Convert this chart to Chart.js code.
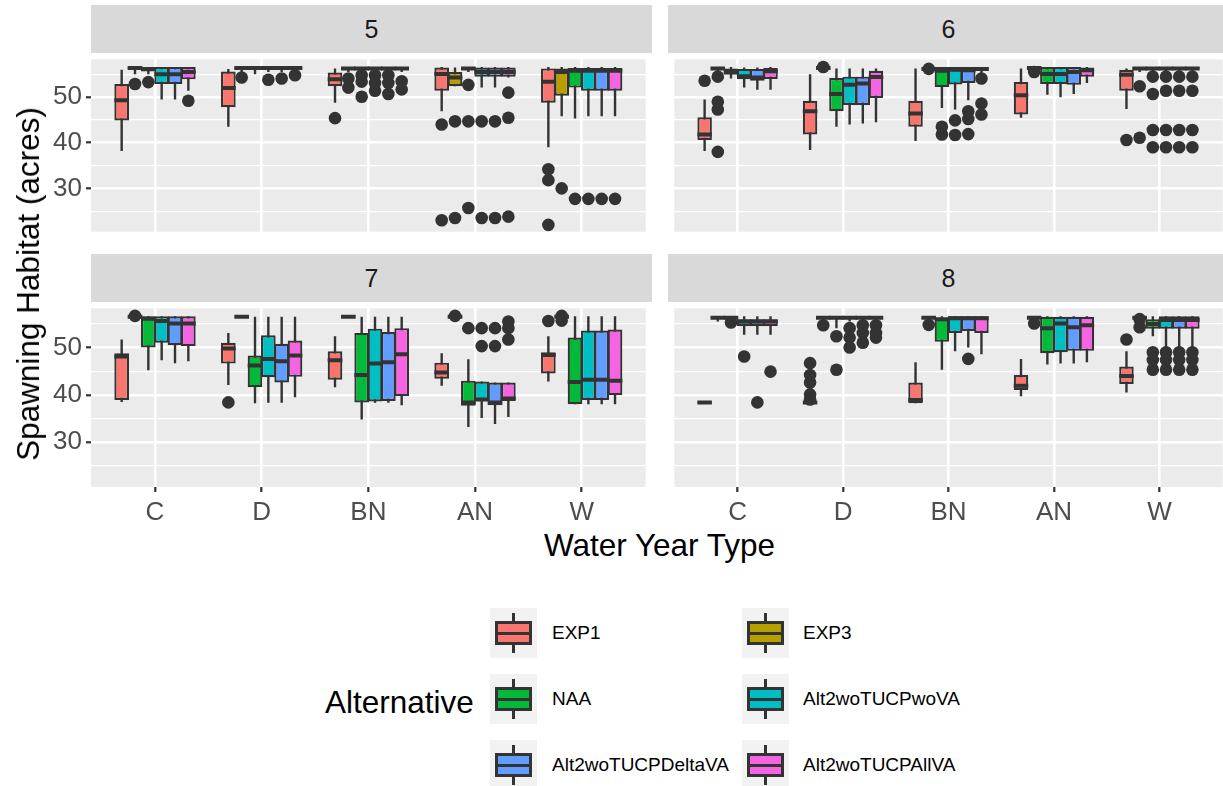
<!DOCTYPE html>
<html><head><meta charset="utf-8">
<script src="https://cdn.jsdelivr.net/npm/chart.js@4.4.1/dist/chart.umd.min.js"></script>
<style>
html,body{margin:0;padding:0}
body{width:1223px;height:786px;overflow:hidden;background:#fff;position:relative;font-family:"Liberation Sans",Arial,sans-serif}
.strip{position:absolute;background:#D9D9D9;color:#1A1A1A;font-size:25px;display:flex;align-items:center;justify-content:center}
canvas{position:absolute}
.title{position:absolute;color:#000;font-size:31.5px;white-space:nowrap}
.key{position:absolute;width:47px;height:50px;background:#F2F2F2}
.key .wh{position:absolute;left:22px;width:3px;top:5px;height:40px;background:#333}
.key .bx{position:absolute;left:5px;top:13px;width:37px;height:24px;border:3px solid #333;box-sizing:border-box}
.key .md{position:absolute;left:5px;top:23.5px;width:37px;height:3px;background:#333}
.lab{position:absolute;font-size:19px;color:#000;white-space:nowrap;line-height:24px}
</style></head>
<body>
<div class="strip" style="left:91px;top:5px;width:561px;height:48px">5</div>
<div class="strip" style="left:668px;top:5px;width:561px;height:48px">6</div>
<div class="strip" style="left:91px;top:254px;width:561px;height:48px">7</div>
<div class="strip" style="left:668px;top:254px;width:561px;height:48px">8</div>
<canvas id="p5" width="652" height="185" style="left:0;top:53px;width:652px;height:185px"></canvas>
<canvas id="p6" width="561" height="185" style="left:668px;top:53px;width:561px;height:185px"></canvas>
<canvas id="p7" width="652" height="225" style="left:0;top:302px;width:652px;height:225px"></canvas>
<canvas id="p8" width="561" height="225" style="left:668px;top:302px;width:561px;height:225px"></canvas>
<div class="title" style="left:91px;width:1137px;top:528px;text-align:center;line-height:34px">Water Year Type</div>
<div class="title" style="left:28px;top:284px;transform:translate(-50%,-50%) rotate(-90deg);line-height:34px">Spawning Habitat (acres)</div>
<div class="title" style="left:325px;top:685px;line-height:34px">Alternative</div>
<div id="legend"></div>
<script>
// ---------- data ----------
const categories = ['C', 'D', 'BN', 'AN', 'W'];
const alternatives = ['EXP1', 'EXP3', 'NAA', 'Alt2woTUCPwoVA', 'Alt2woTUCPDeltaVA', 'Alt2woTUCPAllVA'];
const altColors = ['#F8766D', '#B79F00', '#00BA38', '#00BFC4', '#619CFF', '#F564E3'];
const yTicks = [30, 40, 50];
const yMinor = [25, 35, 45, 55];
const panelNames = ['5', '6', '7', '8'];

// rows = alternatives, columns = categories (C, D, BN, AN, W)
const p5_lo  = [[38.2,43.5,48.8,46.9,39.0],[55.0,55.5,55.5,52.4,45.8],[55.0,55.0,55.5,55.5,45.3],[49.5,55.5,55.5,52.1,45.8],[49.5,55.5,55.5,52.1,45.8],[51.4,55.5,55.5,54.3,45.8]];
const p5_q1  = [[44.9,47.8,52.4,51.4,48.8],[56.0,56.0,56.0,52.4,50.3],[55.6,56.0,56.0,56.0,52.1],[52.9,56.1,56.0,54.5,51.4],[52.9,56.1,56.0,54.5,51.4],[53.9,56.1,56.0,54.5,51.4]];
const p5_med = [[49.3,52.0,53.9,55.1,53.4],[56.4,56.4,56.3,54.3,55.5],[56.2,56.4,56.3,56.3,55.8],[55.0,56.4,56.3,55.5,55.8],[55.0,56.4,56.3,55.5,55.8],[55.5,56.4,56.3,55.5,55.8]];
const p5_q3  = [[52.9,55.6,55.4,56.5,56.3],[56.6,56.6,56.6,55.5,56.3],[56.6,56.6,56.6,56.6,56.4],[56.6,56.6,56.6,56.5,56.4],[56.6,56.6,56.6,56.5,56.4],[56.6,56.6,56.6,56.5,56.4]];
const p5_hi  = [[56.0,56.2,56.3,56.6,56.6],[56.6,56.6,56.6,56.5,56.6],[56.6,56.6,56.6,56.6,56.6],[56.6,56.6,56.6,56.6,56.6],[56.6,56.6,56.6,56.6,56.6],[56.6,56.6,56.6,56.6,56.6]];
// outliers: [alternative, category, value]
const p5_out = [[1,0,52.9],[2,0,53.3],[5,0,49.2],
  [1,1,54.3],[3,1,53.8],[4,1,54.1],[5,1,54.8],
  [0,2,45.4],[1,2,54.1],[1,2,52.1],[2,2,54.8],[2,2,53.4],[2,2,50.1],[3,2,54.8],[3,2,53.1],[3,2,51.4],[4,2,54.8],[4,2,53.1],[4,2,50.7],[5,2,53.5],[5,2,51.7],
  [0,3,44.0],[0,3,23.0],[1,3,44.7],[1,3,23.5],[2,3,52.7],[2,3,44.7],[2,3,25.7],[3,3,44.7],[3,3,23.5],[4,3,44.7],[4,3,23.5],[5,3,51.0],[5,3,45.5],[5,3,23.8],
  [0,4,34.2],[0,4,31.8],[0,4,22.0],[1,4,30.0],[2,4,27.7],[3,4,27.7],[4,4,27.7],[5,4,27.7]];

const p6_lo  = [[38.2,38.4,40.4,45.5,47.4],[55.5,56.3,56.0,56.2,55.5],[54.1,43.5,47.6,50.5,55.5],[52.1,44.0,47.3,50.0,55.5],[51.6,44.2,49.3,50.7,55.5],[51.6,44.5,55.0,53.1,55.5]];
const p6_q1  = [[40.6,41.8,43.5,46.2,51.4],[56.0,56.3,56.0,56.2,56.0],[54.9,46.9,52.2,52.9,56.0],[53.9,48.3,52.8,52.9,56.0],[53.6,48.3,53.1,52.7,56.0],[54.0,49.8,55.8,54.5,56.0]];
const p6_med = [[41.8,46.9,46.4,50.4,54.9],[56.3,56.4,56.2,56.4,56.3],[55.5,50.7,55.8,55.1,56.3],[54.6,52.7,56.0,55.1,56.3],[54.3,53.0,55.9,55.5,56.3],[55.7,54.4,56.2,55.9,56.3]];
const p6_q3  = [[45.6,49.2,49.2,53.3,56.0],[56.6,56.5,56.4,56.6,56.6],[56.3,54.2,56.6,56.6,56.6],[56.2,54.5,56.6,56.6,56.6],[56.2,54.5,56.6,56.6,56.6],[56.4,55.8,56.6,56.5,56.6]];
const p6_hi  = [[49.5,55.0,56.3,56.3,56.3],[56.6,56.5,56.4,56.6,56.6],[56.6,56.3,56.6,56.6,56.6],[56.5,56.3,56.6,56.6,56.6],[56.5,56.3,56.6,56.6,56.6],[56.6,56.3,56.6,56.6,56.6]];
const p6_out = [[0,0,53.6],[1,0,54.5],[1,0,49.0],[1,0,47.3],[1,0,38.0],
  [1,1,56.6],
  [1,2,56.2],[2,2,43.5],[2,2,41.8],[3,2,44.9],[3,2,41.7],[4,2,46.9],[4,2,45.2],[4,2,41.9],[5,2,54.1],[5,2,48.6],[5,2,46.2],
  [1,3,55.5],
  [0,4,40.6],[1,4,52.4],[1,4,41.1],[2,4,54.5],[2,4,50.7],[2,4,42.8],[2,4,39.0],[3,4,54.5],[3,4,51.4],[3,4,42.8],[3,4,39.0],[4,4,54.5],[4,4,51.4],[4,4,42.8],[4,4,39.0],[5,4,54.5],[5,4,51.4],[5,4,42.8],[5,4,39.0]];

const p7_lo  = [[38.5,42.1,41.6,41.9,42.8],[56.4,56.4,56.4,56.4,56.4],[45.2,38.2,34.8,33.2,38.0],[47.3,38.3,38.3,35.1,38.0],[46.7,38.3,38.3,33.8,38.0],[47.1,39.5,37.8,35.3,38.0]];
const p7_q1  = [[38.9,46.6,43.2,43.4,44.5],[56.4,56.4,56.4,56.4,56.4],[50.0,41.6,38.4,37.7,38.0],[51.0,43.7,38.6,38.7,38.9],[50.5,42.6,38.7,37.8,38.9],[50.3,43.8,39.7,38.7,39.9]];
const p7_med = [[48.1,49.8,47.3,44.7,48.4],[56.5,56.5,56.5,56.5,56.5],[56.1,46.2,44.2,38.4,42.7],[55.6,47.6,46.6,39.0,43.2],[55.1,47.1,46.9,38.4,43.2],[55.1,48.3,48.6,39.2,43.0]];
const p7_q3  = [[48.8,51.0,49.2,46.8,49.0],[56.6,56.6,56.6,56.6,56.6],[56.6,48.3,53.1,43.0,52.1],[56.6,52.6,54.0,42.8,53.6],[56.6,50.8,53.3,42.6,53.6],[56.6,51.5,54.1,42.6,53.8]];
const p7_hi  = [[51.7,53.1,52.4,48.8,52.4],[56.6,56.6,56.6,56.6,56.6],[56.6,56.5,56.5,47.5,56.6],[56.6,56.5,56.5,42.8,56.6],[56.6,56.5,56.5,42.6,56.6],[56.6,56.5,56.5,42.6,56.6]];
const p7_out = [[1,0,56.7],[0,1,38.4],
  [1,3,56.7],[2,3,54.1],[3,3,54.1],[3,3,50.3],[4,3,54.1],[4,3,50.3],[5,3,55.5],[5,3,54.1],[5,3,51.7],
  [0,4,55.6],[1,4,56.7],[1,4,55.7]];

const p8_lo  = [[38.2,38.2,38.2,39.7,40.5],[55.5,55.5,55.5,55.5,55.5],[55.3,54.1,45.3,46.4,52.4],[52.7,55.5,49.2,46.6,50.0],[52.7,55.5,50.0,46.6,50.0],[52.7,55.5,48.6,46.9,50.0]];
const p8_q1  = [[38.2,38.2,38.2,41.0,42.3],[56.0,56.0,56.0,56.0,56.0],[56.0,56.0,51.2,48.8,54.0],[54.5,56.0,53.1,49.0,54.0],[54.5,56.0,53.5,49.3,54.0],[54.5,56.0,53.1,49.3,54.0]];
const p8_med = [[38.35,38.35,38.9,41.9,44.0],[56.3,56.3,56.3,56.3,56.3],[56.3,56.3,56.0,54.1,55.0],[55.5,56.3,56.2,55.1,55.8],[55.5,56.3,56.2,54.3,55.8],[55.5,56.3,56.2,54.7,55.8]];
const p8_q3  = [[38.5,38.5,42.6,44.2,46.0],[56.6,56.6,56.6,56.6,56.6],[56.6,56.6,56.2,56.5,56.0],[56.0,56.6,56.6,56.5,56.6],[56.0,56.6,56.6,56.5,56.6],[56.0,56.6,56.6,56.5,56.6]];
const p8_hi  = [[38.5,38.5,46.9,47.6,49.2],[56.6,56.6,56.6,56.6,56.6],[56.6,56.6,56.6,56.6,56.6],[56.6,56.6,56.6,56.6,56.6],[56.6,56.6,56.6,56.6,56.6],[56.6,56.6,56.6,56.6,56.6]];
const p8_out = [[2,0,55.3],[3,0,48.1],[4,0,38.4],[5,0,44.9],
  [0,1,46.7],[0,1,44.2],[0,1,42.6],[0,1,40.1],[0,1,39.0],[1,1,54.7],[2,1,52.4],[2,1,45.3],[3,1,54.1],[3,1,52.1],[3,1,50.0],[4,1,54.7],[4,1,53.1],[4,1,51.0],[5,1,54.7],[5,1,53.1],[5,1,52.1],
  [1,2,54.8],[4,2,47.6],
  [1,3,55.1],
  [0,4,51.7],[1,4,56.0],[1,4,54.3],[2,4,49.0],[2,4,47.4],[2,4,45.3],[3,4,49.0],[3,4,47.4],[3,4,45.3],[4,4,49.0],[4,4,47.4],[4,4,45.3],[5,4,49.0],[5,4,47.4],[5,4,45.3]];

// ---------- rendering ----------
const FONT = '"Liberation Sans", Arial, sans-serif';
Chart.defaults.font.family = FONT;
const DODGE = 0.75;          // ggplot dodge width
const Y_MIN = 20.5, Y_MAX = 58.3;
const TICK_FONT = 26;

const boxParts = {
  id: 'boxParts',
  beforeDraw(chart) {
    const {ctx, chartArea: a} = chart;
    ctx.save();
    ctx.fillStyle = '#EBEBEB';
    ctx.fillRect(a.left, a.top, a.right - a.left, a.bottom - a.top);
    ctx.restore();
  },
  beforeDatasetDraw(chart, args) {
    const ds = chart.data.datasets[args.index];
    if (!ds.whiskers) return;
    const {ctx, chartArea: a} = chart, y = chart.scales.y;
    ctx.save();
    ctx.beginPath(); ctx.rect(a.left, a.top, a.right - a.left, a.bottom - a.top); ctx.clip();
    ctx.strokeStyle = '#333333'; ctx.lineWidth = 2.4;
    args.meta.data.forEach((bar, i) => {
      const [lo, hi] = ds.whiskers[i];
      ctx.beginPath();
      ctx.moveTo(bar.x, y.getPixelForValue(hi));
      ctx.lineTo(bar.x, y.getPixelForValue(lo));
      ctx.stroke();
    });
    ctx.restore();
  },
  afterDatasetDraw(chart, args) {
    const ds = chart.data.datasets[args.index];
    if (!ds.medians) return;
    const {ctx, chartArea: a} = chart, y = chart.scales.y;
    ctx.save();
    ctx.beginPath(); ctx.rect(a.left, a.top, a.right - a.left, a.bottom - a.top); ctx.clip();
    ctx.strokeStyle = '#333333'; ctx.lineWidth = 4;
    args.meta.data.forEach((bar, i) => {
      const py = y.getPixelForValue(ds.medians[i]);
      ctx.beginPath();
      ctx.moveTo(bar.x - bar.width / 2, py);
      ctx.lineTo(bar.x + bar.width / 2, py);
      ctx.stroke();
    });
    ctx.restore();
  }
};

function makePanel(canvasId, lo, q1, med, q3, hi, out, showY, showX) {
  const datasets = alternatives.map((name, a) => ({
    type: 'bar',
    label: name,
    data: categories.map((c, k) => ({x: k + 1, y: [q1[a][k], q3[a][k]]})),
    whiskers: categories.map((c, k) => [lo[a][k], hi[a][k]]),
    medians: categories.map((c, k) => med[a][k]),
    backgroundColor: altColors[a],
    borderColor: '#333333',
    borderWidth: 2.2,
    borderSkipped: false,
    categoryPercentage: DODGE,
    barPercentage: 1.1,
    order: 0
  }));
  datasets.push({
    type: 'scatter',
    label: 'outliers',
    data: out.map(([a, k, v]) => ({x: k + 1 + (a - (alternatives.length - 1) / 2) * DODGE / alternatives.length, y: v})),
    pointRadius: 6.3,
    pointHoverRadius: 6.3,
    pointBackgroundColor: '#333333',
    pointBorderWidth: 0,
    order: 1
  });
  return new Chart(document.getElementById(canvasId), {
    type: 'bar',
    data: {datasets},
    plugins: [boxParts],
    options: {
      responsive: false,
      animation: false,
      devicePixelRatio: 1,
      layout: {padding: 0},
      plugins: {legend: {display: false}, tooltip: {enabled: false}},
      scales: {
        x: {
          type: 'linear', min: 0.4, max: 5.6, offset: false,
          afterBuildTicks: s => { s.ticks = categories.map((c, k) => ({value: k + 1})); },
          afterFit: s => { s.height = showX ? 40 : 0; s.paddingLeft = 0; s.paddingRight = 0; },
          ticks: {display: showX, autoSkip: false, maxRotation: 0, padding: 5,
                  callback: v => categories[v - 1], color: '#4D4D4D', font: {size: TICK_FONT, family: FONT}},
          grid: {offset: false, color: '#FFFFFF', lineWidth: 2.6, drawTicks: showX, tickLength: 5,
                 tickColor: '#333333', tickWidth: 2.2},
          border: {display: false}
        },
        y: {
          type: 'linear', min: Y_MIN, max: Y_MAX,
          afterBuildTicks: s => { s.ticks = yMinor.concat(yTicks).sort((p, q) => p - q).map(v => ({value: v})); },
          afterFit: s => { s.width = showY ? 91 : 0; s.paddingTop = 0; s.paddingBottom = 0; },
          ticks: {display: showY, autoSkip: false, padding: 4,
                  callback: v => yTicks.includes(v) ? String(v) : '', color: '#4D4D4D', font: {size: TICK_FONT, family: FONT}},
          grid: {color: '#FFFFFF',
                 lineWidth: c => (c.tick && yTicks.includes(c.tick.value)) ? 2.6 : 1.3,
                 drawTicks: showY, tickLength: 5,
                 tickColor: c => (c.tick && yTicks.includes(c.tick.value)) ? '#333333' : 'rgba(0,0,0,0)',
                 tickWidth: 2.2},
          border: {display: false}
        }
      }
    }
  });
}

makePanel('p5', p5_lo, p5_q1, p5_med, p5_q3, p5_hi, p5_out, true, false);
makePanel('p6', p6_lo, p6_q1, p6_med, p6_q3, p6_hi, p6_out, false, false);
makePanel('p7', p7_lo, p7_q1, p7_med, p7_q3, p7_hi, p7_out, true, true);
makePanel('p8', p8_lo, p8_q1, p8_med, p8_q3, p8_hi, p8_out, false, true);

// ---------- legend ----------
const legend = document.getElementById('legend');
const keyLefts = [490, 742], labelLefts = [552, 803], rowTops = [608, 674, 740];
alternatives.forEach((name, a) => {
  const col = a % 2, row = Math.floor(a / 2);
  const key = document.createElement('div');
  key.className = 'key';
  key.style.left = keyLefts[col] + 'px';
  key.style.top = rowTops[row] + 'px';
  key.innerHTML = '<div class="wh"></div><div class="bx" style="background:' + altColors[a] + '"></div><div class="md"></div>';
  legend.appendChild(key);
  const lab = document.createElement('div');
  lab.className = 'lab';
  lab.textContent = name;
  lab.style.left = labelLefts[col] + 'px';
  lab.style.top = (rowTops[row] + 13) + 'px';
  legend.appendChild(lab);
});
</script>
</body></html>
